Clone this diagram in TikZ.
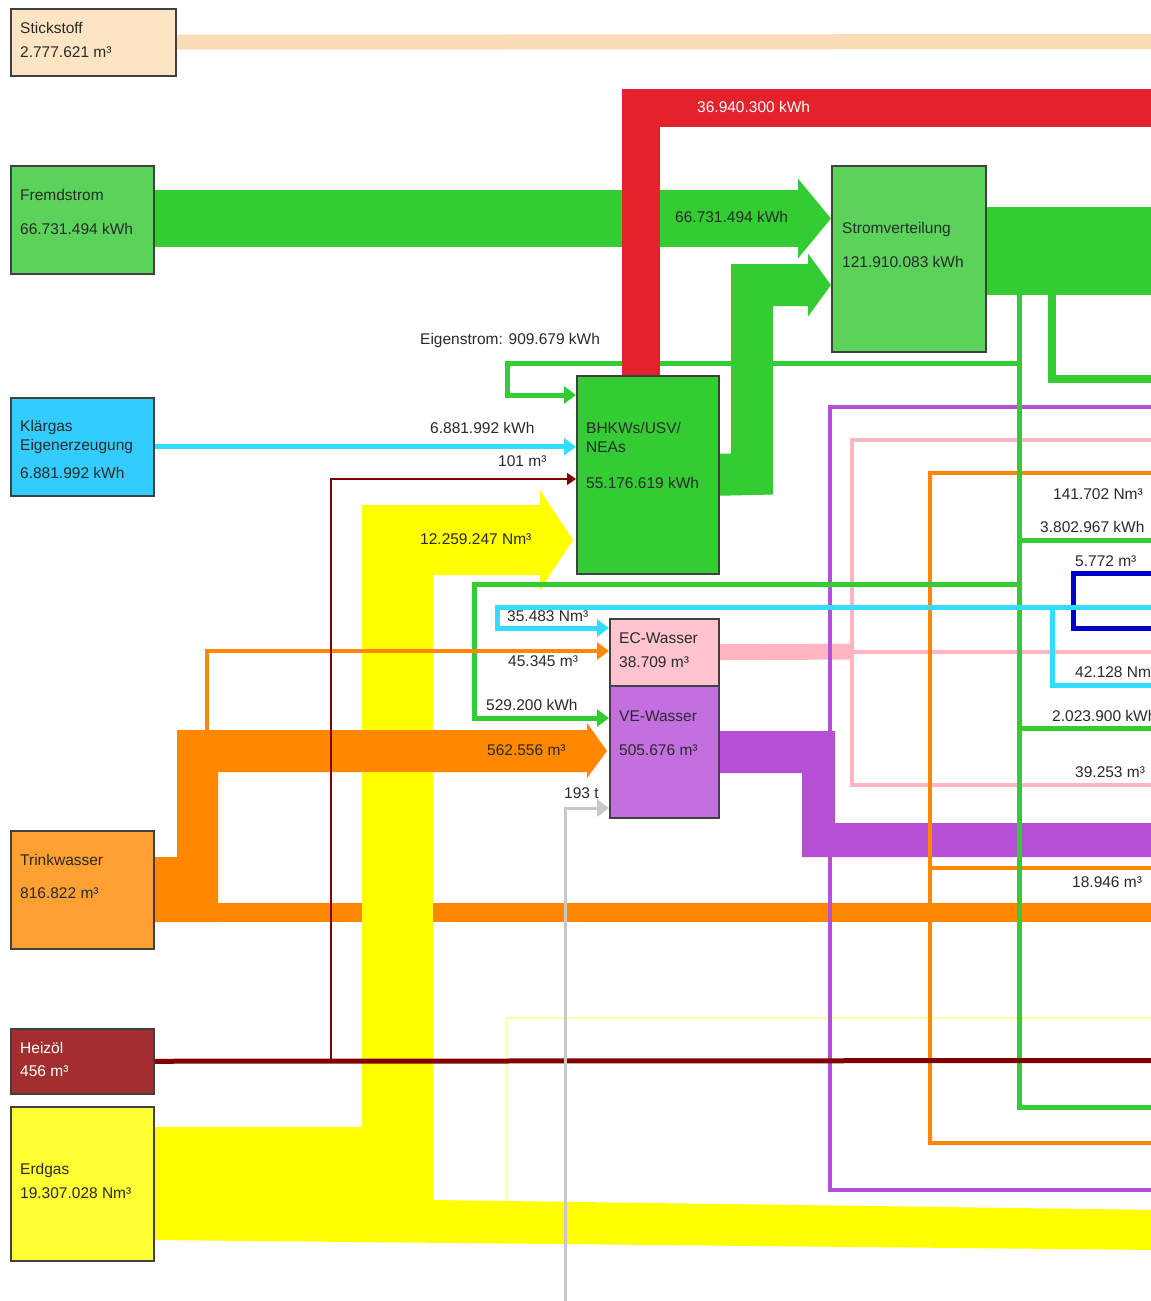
\documentclass[tikz,border=0pt]{standalone}
\usepackage{fontspec}
\setmainfont{Liberation Sans}
\usetikzlibrary{arrows.meta}

\definecolor{boxline}{HTML}{404040}
\definecolor{stickbox}{HTML}{FDE4C3}
\definecolor{stickband}{HTML}{FADCB6}
\definecolor{strombox}{HTML}{5BD35B}
\definecolor{gflow}{HTML}{33CC33}
\definecolor{rflow}{HTML}{E3222B}
\definecolor{klaerbox}{HTML}{33CCFF}
\definecolor{cflow}{HTML}{33DDFF}
\definecolor{trinkbox}{HTML}{FFA033}
\definecolor{oflow}{HTML}{FF8800}
\definecolor{heizbox}{HTML}{A32E2E}
\definecolor{hflow}{HTML}{800000}
\definecolor{erdbox}{HTML}{FFFF33}
\definecolor{yflow}{HTML}{FFFF00}
\definecolor{paley}{HTML}{FFFFA0}
\definecolor{ecbox}{HTML}{FFC4CE}
\definecolor{pkflow}{HTML}{FFB6C1}
\definecolor{vebox}{HTML}{C46FE0}
\definecolor{pflow}{HTML}{B54FD6}
\definecolor{bflow}{HTML}{0000CC}
\definecolor{grflow}{HTML}{C8C8C8}
\definecolor{txtcol}{HTML}{2A2A2A}

\pgfdeclarelayer{background}
\pgfsetlayers{background,main}

\tikzset{
  box/.style={draw=boxline, line width=1.5pt, anchor=north west, inner sep=0pt},
  txt/.style={anchor=west, inner sep=0pt, font=\fontsize{15.5}{18}\selectfont, text=txtcol},
  thinflow/.style={line width=5pt},
  tip/.style={-{Triangle[length=12pt,width=17pt]}},
  smalltip/.style={-{Triangle[length=9pt,width=12pt]}}
}

\begin{document}
\begin{tikzpicture}[x=1pt,y=-1pt]
\useasboundingbox (0,0) rectangle (1151,1301);

% Quellen und Verbraucher
\node[box, fill=stickbox, minimum width=165pt, minimum height=67pt] (stick) at (10,8) {};
\node[box, fill=strombox, minimum width=143pt, minimum height=108pt] (fremd) at (10,165) {};
\node[box, fill=klaerbox, minimum width=143pt, minimum height=98pt] (klaer) at (10,397) {};
\node[box, fill=trinkbox, minimum width=143pt, minimum height=118pt] (trink) at (10,830) {};
\node[box, fill=heizbox, minimum width=143pt, minimum height=65pt] (heiz) at (10,1028) {};
\node[box, fill=erdbox, minimum width=143pt, minimum height=154pt] (erd) at (10,1106) {};
\node[box, fill=gflow, minimum width=142pt, minimum height=198pt] (bhkw) at (576,375) {};
\node[box, fill=strombox, minimum width=154pt, minimum height=186pt] (strom) at (831,165) {};
\node[box, fill=ecbox, minimum width=109pt, minimum height=67pt] (ec) at (609,618) {};
\node[box, fill=vebox, minimum width=109pt, minimum height=132pt] (ve) at (609,685) {};

\begin{pgfonlayer}{background}
\fill[white] (0,0) rectangle (1151,1301);
% Stickstoff
\draw[line width=15pt, stickband] (stick.east) -- (1160,41.5);
% Trinkwasser, unteres Band
\fill[oflow] (153,903) rectangle (1160,922);
% Erdgas
\draw[line width=2pt, paley] (507,1200) -- (507,1018) -- (1160,1018);
\fill[yflow] (153,1127) -- (362,1127) -- (362,505) -- (540,505) -- (540,490)
  -- (573,540) -- (540,590) -- (540,575) -- (433,575) -- (433,1200)
  -- (1160,1210) -- (1160,1250) -- (153,1240) -- cycle;
% VE-Wasser / EC-Wasser
\fill[pflow] (718,731) -- (835,731) -- (835,823) -- (1160,823) -- (1160,857)
  -- (802,857) -- (802,773) -- (718,773) -- cycle;
\draw[line width=16pt, pkflow] (ec.east) -- (852,651.5);
\draw[line width=4pt, pkflow] (852,651.5) -- (1160,651.5);
\draw[line width=4pt, pkflow] (1160,440) -- (852,440) -- (852,785) -- (1160,785);
\draw[line width=4pt, pflow] (1160,407) -- (830,407) -- (830,1190) -- (1160,1190);
\draw[line width=4pt, oflow] (1160,473) -- (930,473) -- (930,1143) -- (1160,1143);
\draw[line width=4pt, oflow] (930,868) -- (1160,868);
\draw[thinflow, bflow] (1160,573) -- (1073,573) -- (1073,628) -- (1160,628);
% Strom
\draw[thinflow, gflow] (1019,290) -- (1019,1107) -- (1160,1107);
\draw[thinflow, gflow] (1019,540) -- (1160,540);
\draw[thinflow, gflow] (1019,728) -- (1160,728);
\draw[thinflow, gflow, tip] (1019,584) -- (474,584) -- (474,718) -- (ve.west |- 0,718);
\draw[thinflow, gflow, tip] (1019,363) -- (507,363) -- (507,395) -- (bhkw.west |- 0,395);
\draw[line width=8pt, gflow] (1052,290) -- (1052,379) -- (1160,379);
% Klaergas
\draw[thinflow, cflow, tip] (klaer.east) -- (bhkw.west |- klaer.east);
\draw[thinflow, cflow, tip] (1160,607) -- (497,607) -- (497,628) -- (ec.west |- 0,628);
\draw[thinflow, cflow] (1052,607) -- (1052,685) -- (1160,685);
% Trinkwasser
\fill[oflow] (153,857) -- (177,857) -- (177,730) -- (587,730) -- (587,723)
  -- (607,751) -- (587,778) -- (587,772) -- (218,772) -- (218,922) -- (153,922) -- cycle;
\draw[line width=4pt, oflow, tip] (207,730) -- (207,651) -- (ec.west |- 0,651);
% Heizoel
\draw[thinflow, hflow] (heiz.east) -- (1160,1060.5);
\draw[line width=1.5pt, hflow, smalltip] (331,1060) -- (331,479) -- (bhkw.west |- 0,479);
% sonstige
\draw[line width=3pt, grflow, tip] (565,1310) -- (565,808) -- (ve.west |- 0,808);
% Fremdstrom und Eigenerzeugung
\draw[line width=57pt, gflow, -{Triangle[length=33pt,width=78pt]}] (fremd.east |- 0,218.5) -- (strom.west |- 0,218.5);
\draw[line width=42pt, gflow, miter limit=10, -{Triangle[length=23pt,width=62pt]}]
  (bhkw.east) -- (752,474) -- (752,285) -- (strom.west |- 0,285);
\draw[line width=88pt, gflow] (strom.east |- 0,251) -- (1160,251);
\draw[line width=38pt, rflow, miter limit=10] (1160,107.5) -- (641,107.5) -- (641,375);
\end{pgfonlayer}

% Beschriftung der Kaesten
\node[txt] (stick1) at (20,28) {Stickstoff};
\node[txt] (stick2) at (20,52) {2.777.621 m³};
\node[txt] (fremd1) at (20,195) {Fremdstrom};
\node[txt] (fremd2) at (20,229) {66.731.494 kWh};
\node[txt] (klaer1) at (20,427) {Klärgas};
\node[txt] (klaer2) at (20,446) {Eigenerzeugung};
\node[txt] (klaer3) at (20,473) {6.881.992 kWh};
\node[txt] (trink1) at (20,860) {Trinkwasser};
\node[txt] (trink2) at (20,893) {816.822  m³};
\node[txt, text=white] (heiz1) at (20,1048) {Heizöl};
\node[txt, text=white] (heiz2) at (20,1071) {456 m³};
\node[txt] (erd1) at (20,1170) {Erdgas};
\node[txt] (erd2) at (20,1193) {19.307.028  Nm³};
\node[txt] (bhkw1) at (586,428) {BHKWs/USV/};
\node[txt] (bhkw2) at (586,447) {NEAs};
\node[txt] (bhkw3) at (586,483) {55.176.619 kWh};
\node[txt] (strom1) at (842,229) {Stromverteilung};
\node[txt] (strom2) at (842,262) {121.910.083  kWh};
\node[txt] (ec1) at (619,638) {EC-Wasser};
\node[txt] (ec2) at (619,662) {38.709 m³};
\node[txt] (ve1) at (619,716) {VE-Wasser};
\node[txt] (ve2) at (619,750) {505.676  m³};

% Beschriftung der Fluesse
\node[txt, text=white] (l1) at (697,107) {36.940.300 kWh};
\node[txt] (l2) at (675,217) {66.731.494 kWh};
\node[txt] (l3) at (420,340) {Eigenstrom: 909.679 kWh};
\node[txt] (l4) at (430,428) {6.881.992 kWh};
\node[txt] (l5) at (498,461) {101 m³};
\node[txt] (l6) at (420,539) {12.259.247 Nm³};
\node[txt] (l7) at (507,616) {35.483 Nm³};
\node[txt] (l8) at (508,661) {45.345 m³};
\node[txt] (l9) at (486,705) {529.200 kWh};
\node[txt] (l10) at (487,750) {562.556 m³};
\node[txt] (l11) at (564,793) {193 t};
\node[txt] (r1) at (1053,494) {141.702 Nm³};
\node[txt] (r2) at (1040,527) {3.802.967 kWh};
\node[txt] (r3) at (1075,561) {5.772 m³};
\node[txt] (r4) at (1075,672) {42.128 Nm³};
\node[txt] (r5) at (1052,716) {2.023.900 kWh};
\node[txt] (r6) at (1075,772) {39.253 m³};
\node[txt] (r7) at (1072,882) {18.946 m³};
\end{tikzpicture}
\end{document}
